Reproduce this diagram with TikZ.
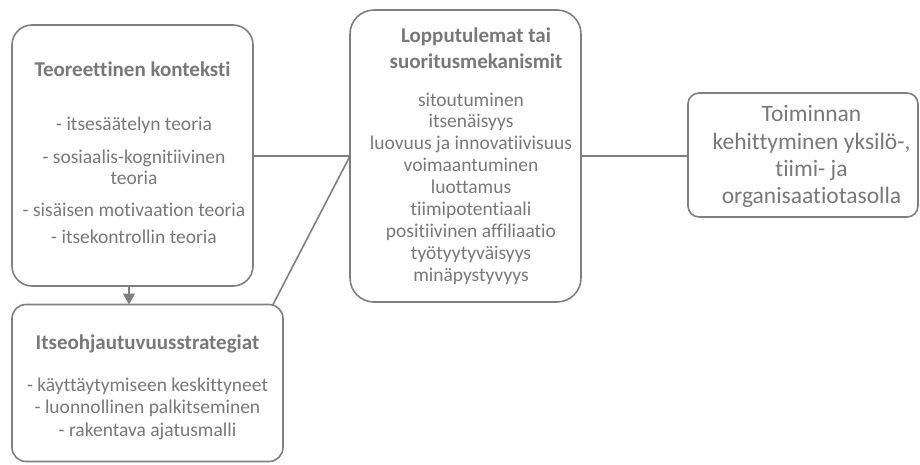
\documentclass[tikz,border=0pt]{standalone}
\usepackage{fontspec}
\setmainfont{Carlito}[Ligatures=NoCommon]
\usetikzlibrary{arrows.meta}
\definecolor{linegray}{RGB}{127,127,127}
\definecolor{textgray}{RGB}{120,120,120}
\tikzset{
  box/.style={draw=linegray, line width=1.6pt, fill=white, inner sep=0pt, outer sep=0pt},
  conn/.style={draw=linegray, line width=1.6pt},
  ttl/.style={text=textgray, anchor=base, inner sep=0pt, font=\fontsize{21}{25}\selectfont\bfseries},
  body/.style={text=textgray, anchor=base, inner sep=0pt, font=\fontsize{19.5}{22}\selectfont},
  big/.style={text=textgray, anchor=base, inner sep=0pt, font=\fontsize{23.5}{27}\selectfont},
}
\begin{document}
\begin{tikzpicture}[x=1pt, y=-1pt]
\useasboundingbox (0,0) rectangle (920,464);
% boxes
\node[box, rounded corners=20pt, minimum width=241pt, minimum height=261pt] (B1) at (132.5,155.5) {};
\node[box, rounded corners=14pt, minimum width=271pt, minimum height=157pt] (B2) at (147.5,383) {};
\node[box, rounded corners=24pt, minimum width=231pt, minimum height=292pt] (B3) at (465.5,156) {};
\node[box, rounded corners=11pt, minimum width=230pt, minimum height=124pt] (B4) at (803,155) {};
% connectors
\draw[conn] (B3.west) -- (B3.west -| B1.east);
\draw[conn] ([xshift=-10pt]B2.north east) -- (B3.west);
\draw[conn] (B3.east) -- (B3.east -| B4.west);
\draw[conn, -{Triangle[length=11pt,width=12pt]}] ([xshift=-3.5pt]B1.south) -- ([xshift=-3.5pt]B1.south |- B2.north);
% box 1 text
\node[ttl] (t1) at (132.5,76) {Teoreettinen konteksti};
\node[body] (t1a) at (134,130) {- itsesäätelyn teoria};
\node[body] (t1b) at (134,163) {- sosiaalis-kognitiivinen};
\node[body] (t1c) at (134,184) {teoria};
\node[body] (t1d) at (134,216) {- sisäisen motivaation teoria};
\node[body] (t1e) at (134,243) {- itsekontrollin teoria};
% box 2 text
\node[ttl] (t2) at (147.5,349) {Itseohjautuvuusstrategiat};
\node[body] (t2a) at (147.5,391) {- käyttäytymiseen keskittyneet};
\node[body] (t2b) at (147.5,413) {- luonnollinen palkitseminen};
\node[body] (t2c) at (147.5,436) {- rakentava ajatusmalli};
% box 3 text
\node[ttl] (t3a) at (476,42) {Lopputulemat tai};
\node[ttl] (t3b) at (476,68) {suoritusmekanismit};
\foreach \t [count=\i] in {sitoutuminen, itsenäisyys, luovuus ja innovatiivisuus, voimaantuminen, luottamus, tiimipotentiaali, positiivinen affiliaatio, työtyytyväisyys, minäpystyvyys}
  \node[body] (b3l\i) at (471,{106+(\i-1)*21.95}) {\t};
% box 4 text
\node[big] (t4a) at (811.5,121.7) {Toiminnan};
\node[big] (t4b) at (811.5,149) {kehittyminen yksilö-,};
\node[big] (t4c) at (811.5,176.5) {tiimi- ja};
\node[big] (t4d) at (811.5,203.5) {organisaatiotasolla};
\end{tikzpicture}
\end{document}
